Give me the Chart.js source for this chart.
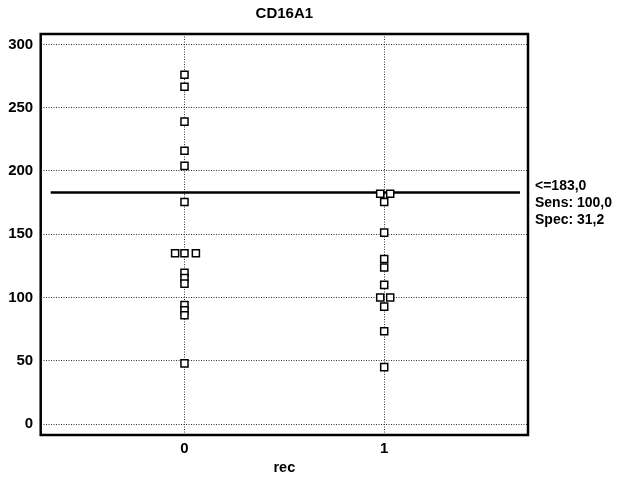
<!DOCTYPE html>
<html>
<head>
<meta charset="utf-8">
<script src="https://cdn.jsdelivr.net/npm/chart.js@4"></script>
<style>
  html, body { margin: 0; padding: 0; background: #fff; }
  #wrap { width: 622px; height: 477px; }
</style>
</head>
<body>
<div id="wrap"><canvas id="c" width="622" height="477"></canvas></div>
<script>
// ---- data ----
const chartTitle = "CD16A1";
const xAxisTitle = "rec";
const categories = [0, 1];
const xTickValues = [0, 1];
const yTickValues = [0, 50, 100, 150, 200, 250, 300];

// group rec = 0
const group0Values = [276, 266.5, 239, 216, 204, 175.5, 135, 135, 135, 119.5, 115.5, 111, 94, 90, 86, 48];
const group0Jitter = [0, 0, 0, 0, 0, 0, -0.047, 0, 0.057, 0, 0, 0, 0, 0, 0, 0];
// group rec = 1
const group1Values = [182, 182, 175.5, 151.3, 130.5, 123.7, 110, 100, 100, 92.8, 73.3, 45];
const group1Jitter = [-0.02, 0.03, 0, 0, 0, 0, 0, -0.02, 0.03, 0, 0, 0];

const cutoffValue = 183;
const cutoffLabels = ["<=183,0", "Sens: 100,0", "Spec: 31,2"];

// ---- build points ----
const pts0 = group0Values.map((v, i) => ({ x: categories[0] + group0Jitter[i], y: v }));
const pts1 = group1Values.map((v, i) => ({ x: categories[1] + group1Jitter[i], y: v }));

const FONT = "'Liberation Sans', Arial, sans-serif";

const decorPlugin = {
  id: 'decor',
  beforeDatasetsDraw(chart) {
    const { ctx, chartArea, scales } = chart;
    const y = scales.y.getPixelForValue(cutoffValue);
    ctx.save();
    ctx.strokeStyle = '#000';
    ctx.lineWidth = 2.5;
    ctx.beginPath();
    ctx.moveTo(chartArea.left + 10, y);
    ctx.lineTo(chartArea.right - 8, y);
    ctx.stroke();
    ctx.restore();
  },
  afterDraw(chart) {
    const { ctx, chartArea, scales } = chart;
    ctx.save();
    // frame
    ctx.strokeStyle = '#000';
    ctx.lineWidth = 2.5;
    ctx.strokeRect(chartArea.left, chartArea.top, chartArea.right - chartArea.left, chartArea.bottom - chartArea.top);
    // title
    ctx.fillStyle = '#000';
    ctx.font = "bold 15px " + FONT;
    ctx.textAlign = 'center';
    ctx.textBaseline = 'middle';
    ctx.fillText(chartTitle, (chartArea.left + chartArea.right) / 2, 14);
    // cutoff annotation
    ctx.font = "bold 14px " + FONT;
    ctx.textAlign = 'left';
    const y = scales.y.getPixelForValue(cutoffValue);
    cutoffLabels.forEach((t, i) => {
      ctx.fillText(t, chartArea.right + 7, y - 6 + i * 17);
    });
    ctx.restore();
  }
};

new Chart(document.getElementById('c'), {
  type: 'scatter',
  data: {
    datasets: [
      { data: pts0, pointStyle: 'rect', pointRadius: 5, pointHoverRadius: 5,
        backgroundColor: '#fff', borderColor: '#000', borderWidth: 1.5 },
      { data: pts1, pointStyle: 'rect', pointRadius: 5, pointHoverRadius: 5,
        backgroundColor: '#fff', borderColor: '#000', borderWidth: 1.5 }
    ]
  },
  options: {
    responsive: false,
    animation: false,
    devicePixelRatio: 1,
    layout: { padding: { left: 0, right: 94, top: 34, bottom: 0 } },
    plugins: { legend: { display: false }, title: { display: false }, tooltip: { enabled: false } },
    scales: {
      x: {
        type: 'linear',
        min: -0.72,
        max: 1.72,
        afterBuildTicks: s => { s.ticks = xTickValues.map(v => ({ value: v })); },
        afterFit: s => { s.height = 42; },
        ticks: { color: '#000', font: { family: FONT, size: 15, weight: 'bold' }, padding: 5,
                 callback: v => String(v) },
        grid: { color: '#333', lineWidth: 1, drawTicks: false },
        border: { display: false, dash: [1, 1.5] },
        title: { display: true, text: xAxisTitle, color: '#000',
                 font: { family: FONT, size: 14.5, weight: 'bold' }, padding: { top: 0, bottom: 0 } }
      },
      y: {
        type: 'linear',
        min: -8.6,
        max: 308.2,
        afterBuildTicks: s => { s.ticks = yTickValues.map(v => ({ value: v })); },
        afterFit: s => { s.width = 40.7; },
        ticks: { color: '#000', font: { family: FONT, size: 15, weight: 'bold' }, padding: 7.5,
                 callback: v => String(v) },
        grid: { color: '#333', lineWidth: 1, drawTicks: false },
        border: { display: false, dash: [1, 1.5] }
      }
    }
  },
  plugins: [decorPlugin]
});
</script>
</body>
</html>
